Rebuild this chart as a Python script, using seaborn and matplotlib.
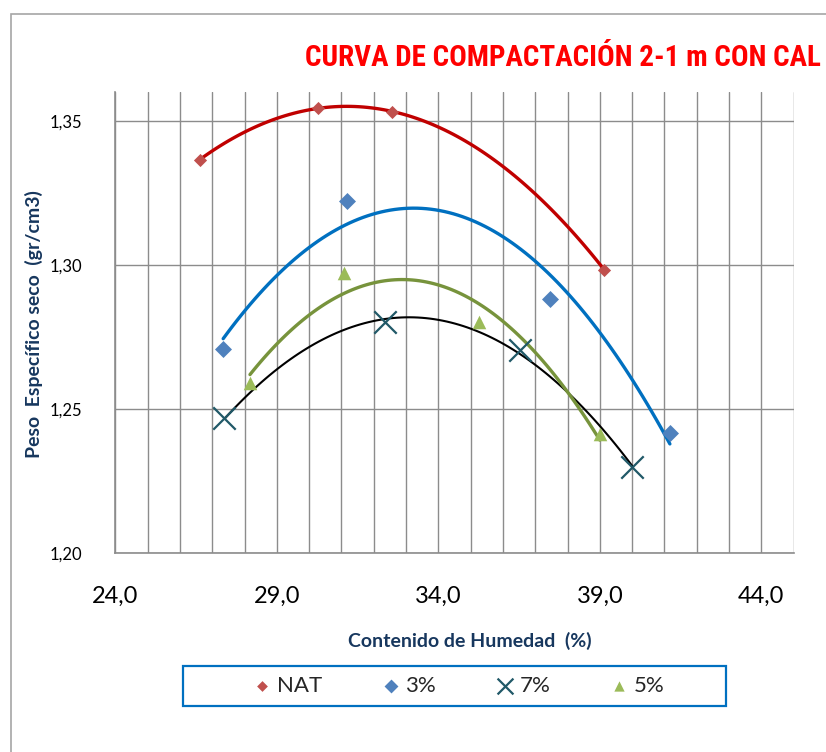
import os
import numpy as np
import pandas as pd
import matplotlib
matplotlib.use("Agg")
import matplotlib.pyplot as plt
from matplotlib import font_manager
from matplotlib.font_manager import FontProperties
from matplotlib.patches import Rectangle
from matplotlib.ticker import MultipleLocator, FuncFormatter
import seaborn as sns

# Moisture content (%) and dry unit weight (gr/cm3) for each lime dosage
nat_x = [26.62, 30.28, 32.58, 39.14]
nat_y = [1.3365, 1.3546, 1.3530, 1.2983]

cal3_x = [27.34, 31.16, 37.47, 41.17]
cal3_y = [1.2708, 1.3220, 1.2883, 1.2416]

cal7_x = [27.38, 32.35, 36.53, 40.00]
cal7_y = [1.2469, 1.2800, 1.2705, 1.2297]

cal5_x = [28.17, 31.08, 35.27, 39.00]
cal5_y = [1.2589, 1.2971, 1.2803, 1.2413]

series_labels = ["NAT", "3%", "7%", "5%"]
x_ticks = [24.0, 29.0, 34.0, 39.0, 44.0]
y_ticks = [1.20, 1.25, 1.30, 1.35]

sns.set_theme(style="white")
installed = {f.name for f in font_manager.fontManager.ttflist}
base_font = "Lato" if "Lato" in installed else "DejaVu Sans"
plt.rcParams["font.family"] = [base_font, "DejaVu Sans"]


def narrow_bold_font():
    """Pick a condensed bold face for the heading, if one is installed."""
    files = [f.fname for f in font_manager.fontManager.ttflist]
    prefs = ["liberationsansnarrow-bold.", "notosans-condensedbold.",
             "opensans-condensedbold.", "opensans_condensed-bold.",
             "robotocondensed-bold.", "dejavusanscondensed-bold."]
    for p in prefs:
        for fn in files:
            if os.path.basename(fn).lower().startswith(p):
                return FontProperties(fname=fn)
    return FontProperties(family=[base_font, "DejaVu Sans"], weight="bold")


W, H = 826, 752
fig = plt.figure(figsize=(W / 100, H / 100), dpi=100)
fig.patch.set_facecolor("white")

# chart frame
fig.patches.append(Rectangle((11 / W, -0.1), 1.2, 1 - 14 / H + 0.1,
                             transform=fig.transFigure, fill=False,
                             edgecolor="#a6a6a6", linewidth=1.2))

ax = fig.add_axes([115.3 / W, 1 - 553 / H, (793.6 - 115.3) / W, (553 - 92) / H])

navy = "#17375E"
specs = [
    (nat_x, nat_y, series_labels[0], "#C0504D", "D", 45, "#C00000", 2.4, 30),
    (cal3_x, cal3_y, series_labels[1], "#4F81BD", "D", 75, "#0070C0", 2.4, 50),
    (cal7_x, cal7_y, series_labels[2], "#215968", "x", 260, "#000000", 1.5, 130),
    (cal5_x, cal5_y, series_labels[3], "#9BBB59", "^", 95, "#77933C", 2.4, 55),
]

for xs, ys, lab, mcol, mk, size, lcol, lw, _ in specs:
    df = pd.DataFrame({"humedad": xs, "peso": ys})
    # second-order polynomial trend line over the measured range
    sns.regplot(data=df, x="humedad", y="peso", order=2, ci=None, scatter=False,
                truncate=True, ax=ax, line_kws=dict(color=lcol, lw=lw, zorder=3))
    kw = dict(linewidth=1.6) if mk == "x" else dict(linewidth=0)
    sns.scatterplot(data=df, x="humedad", y="peso", marker=mk, s=size, color=mcol,
                    label=lab, ax=ax, zorder=4, legend=False, **kw)

ax.set_xlim(24, 45)
ax.set_ylim(1.20, 1.36)
ax.xaxis.set_major_locator(MultipleLocator(1))
ax.set_yticks(y_ticks)
ax.grid(True, axis="both", color="#8c8c8c", linewidth=1.0)
ax.set_axisbelow(True)

# only every fifth vertical line carries a label
ax.xaxis.set_major_formatter(FuncFormatter(
    lambda v, p: (f"{v:.1f}".replace(".", ",") if any(abs(v - t) < 1e-6 for t in x_ticks) else "")))
ax.yaxis.set_major_formatter(FuncFormatter(lambda v, p: f"{v:.2f}".replace(".", ",")))
ax.tick_params(axis="x", length=0, pad=24, labelsize=17, labelcolor="black")
ax.tick_params(axis="y", length=0, pad=24, labelsize=12, labelcolor="black")

for side in ("top", "right"):
    ax.spines[side].set_visible(False)
for side in ("left", "bottom"):
    ax.spines[side].set_color("#8c8c8c")
    ax.spines[side].set_linewidth(1.2)

ax.set_xlabel("")
ax.set_ylabel("")
fig.text(470 / W, 1 - 641 / H, "Contenido de Humedad  (%)", ha="center", va="center",
         fontsize=14, fontweight="bold", color=navy)
fig.text(34 / W, 1 - 324 / H, "Peso  Específico seco  (gr/cm3)", ha="center", va="center",
         rotation=90, fontsize=14, fontweight="bold", color=navy)

# heading: sized so that it runs from x=305 to just inside the right edge
tfp = narrow_bold_font()
tfp.set_size(22)
title = fig.text(305 / W, 1 - 58 / H, "CURVA DE COMPACTACIÓN 2-1 m CON CAL", ha="left",
                 va="center", color="#FF0000", fontproperties=tfp)
renderer = fig.canvas.get_renderer()
tw = title.get_window_extent(renderer).width
tfp.set_size(min(24, 22 * (W - 305 - 5) / tw))
title.set_fontproperties(tfp)

# legend box and entries
fig.patches.append(Rectangle((183 / W, 1 - 706 / H), (726 - 183) / W, (706 - 666) / H,
                             transform=fig.transFigure, fill=False,
                             edgecolor="#0070C0", linewidth=1.6, zorder=5))
handles, labels = ax.get_legend_handles_labels()
leg = fig.legend(handles, labels, loc="center", bbox_to_anchor=(459 / W, 1 - 686 / H),
                 ncol=4, frameon=False, fontsize=16, handlelength=0.8,
                 columnspacing=2.7, handletextpad=0.25, borderpad=0.2)
for h, spec in zip(leg.legend_handles, specs):
    h.set_sizes([spec[8]])

fig.savefig("out.png", dpi=100, facecolor="white")
